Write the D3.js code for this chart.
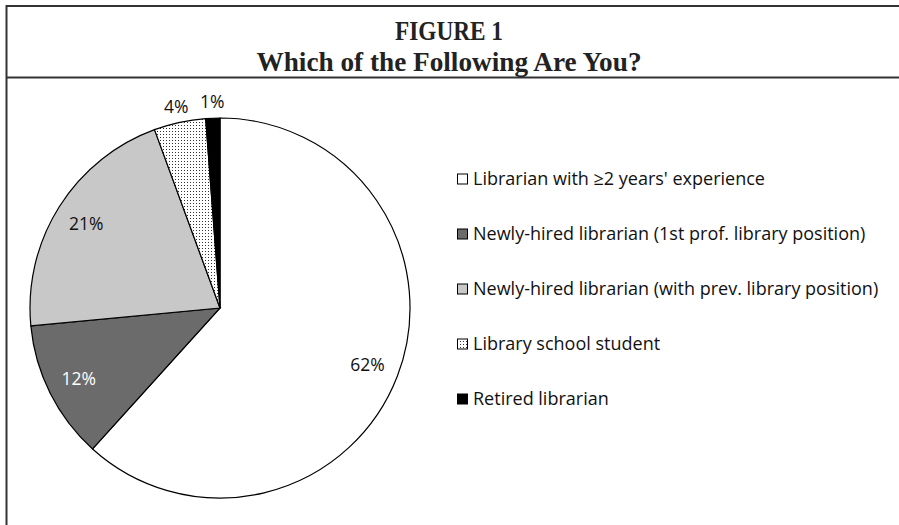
<!DOCTYPE html>
<html>
<head>
<meta charset="utf-8">
<script src="https://cdn.jsdelivr.net/npm/d3@7"></script>
<style>
  body { margin: 0; background: #fff; }
  svg { display: block; }
</style>
</head>
<body>
<svg id="chart" width="899" height="525"></svg>
<script>
// survey answers, share of respondents (%)
var categories = [
  "Librarian with \u22652 years' experience",
  "Newly-hired librarian (1st prof. library position)",
  "Newly-hired librarian (with prev. library position)",
  "Library school student",
  "Retired librarian"
];
var shares = [61.7, 11.8, 20.9, 4.4, 1.2];
var titleLines = ["FIGURE 1", "Which of the Following Are You?"];

var svg = d3.select("#chart"),
  width = +svg.attr("width"),
  height = +svg.attr("height");

var defs = svg.append("defs");
var dots = defs
  .append("pattern")
  .attr("id", "dots")
  .attr("width", 3)
  .attr("height", 3)
  .attr("patternUnits", "userSpaceOnUse");
dots.append("rect").attr("width", 3).attr("height", 3).attr("fill", "#fff");
dots.append("rect").attr("width", 1).attr("height", 1).attr("fill", "#333");

var fills = ["#ffffff", "#6b6b6b", "#c8c8c8", "url(#dots)", "#000000"];
var color = d3.scaleOrdinal().domain(categories).range(fills);

// frame
var frame = svg.append("g").attr("stroke", "#333").attr("stroke-width", 2);
frame.append("line").attr("x1", 6).attr("x2", width).attr("y1", 6).attr("y2", 6);
frame.append("line").attr("x1", 6).attr("x2", width).attr("y1", 77.5).attr("y2", 77.5);
frame.append("line").attr("x1", 6.5).attr("x2", 6.5).attr("y1", 5).attr("y2", height);

// title is a condensed bold serif in the original
var titleWidths = [108, 385];
svg
  .append("g")
  .selectAll("text")
  .data(titleLines)
  .enter()
  .append("text")
  .attr("x", 449)
  .attr("y", function(d, i) {
    return 40 + i * 31;
  })
  .attr("text-anchor", "middle")
  .attr("font-family", "'Liberation Serif', 'Times New Roman', serif")
  .attr("font-weight", "bold")
  .attr("font-size", 27)
  .attr("textLength", function(d, i) {
    return titleWidths[i];
  })
  .attr("lengthAdjust", "spacingAndGlyphs")
  .attr("fill", "#222")
  .text(function(d) {
    return d;
  });

// pie
var cx = 220,
  cy = 308,
  radius = 190;

var pie = d3
  .pie()
  .sort(null)
  .value(function(d) {
    return d.value;
  });

var data = categories.map(function(c, i) {
  return { name: c, value: shares[i] };
});
var arcs = pie(data);

var arc = d3.arc().innerRadius(0).outerRadius(radius);
var inside = d3.arc().innerRadius(158).outerRadius(158);
var outside = d3.arc().innerRadius(206).outerRadius(206);

var pieG = svg.append("g").attr("transform", "translate(" + cx + "," + cy + ")");

pieG
  .selectAll("path")
  .data(arcs)
  .enter()
  .append("path")
  .attr("d", arc)
  .attr("fill", function(d) {
    return color(d.data.name);
  })
  .attr("stroke", "#000")
  .attr("stroke-width", 1.2);

pieG
  .selectAll("text")
  .data(arcs)
  .enter()
  .append("text")
  .attr("transform", function(d) {
    var p = d.data.value < 6 ? outside.centroid(d) : inside.centroid(d);
    return "translate(" + p + ")";
  })
  .attr("text-anchor", "middle")
  .attr("dy", "0.35em")
  .attr("font-family", "'Open Sans', Lato, sans-serif")
  .attr("font-size", 17.5)
  .attr("fill", function(d, i) {
    return i === 1 ? "#fff" : "#111";
  })
  .text(function(d) {
    return Math.round(d.data.value) + "%";
  });

// legend
var legend = svg
  .append("g")
  .selectAll("g")
  .data(categories)
  .enter()
  .append("g")
  .attr("transform", function(d, i) {
    return "translate(457," + (179 + i * 55) + ")";
  });

legend
  .append("rect")
  .attr("x", 0.5)
  .attr("y", -5)
  .attr("width", 10)
  .attr("height", 10)
  .attr("fill", function(d) {
    return color(d);
  })
  .attr("stroke", "#000")
  .attr("stroke-width", 1);

legend
  .append("text")
  .attr("x", 16)
  .attr("dy", "0.35em")
  .attr("font-family", "'Open Sans', Lato, sans-serif")
  .attr("font-size", 18)
  .attr("fill", "#111")
  .text(function(d) {
    return d;
  });
</script>
</body>
</html>
